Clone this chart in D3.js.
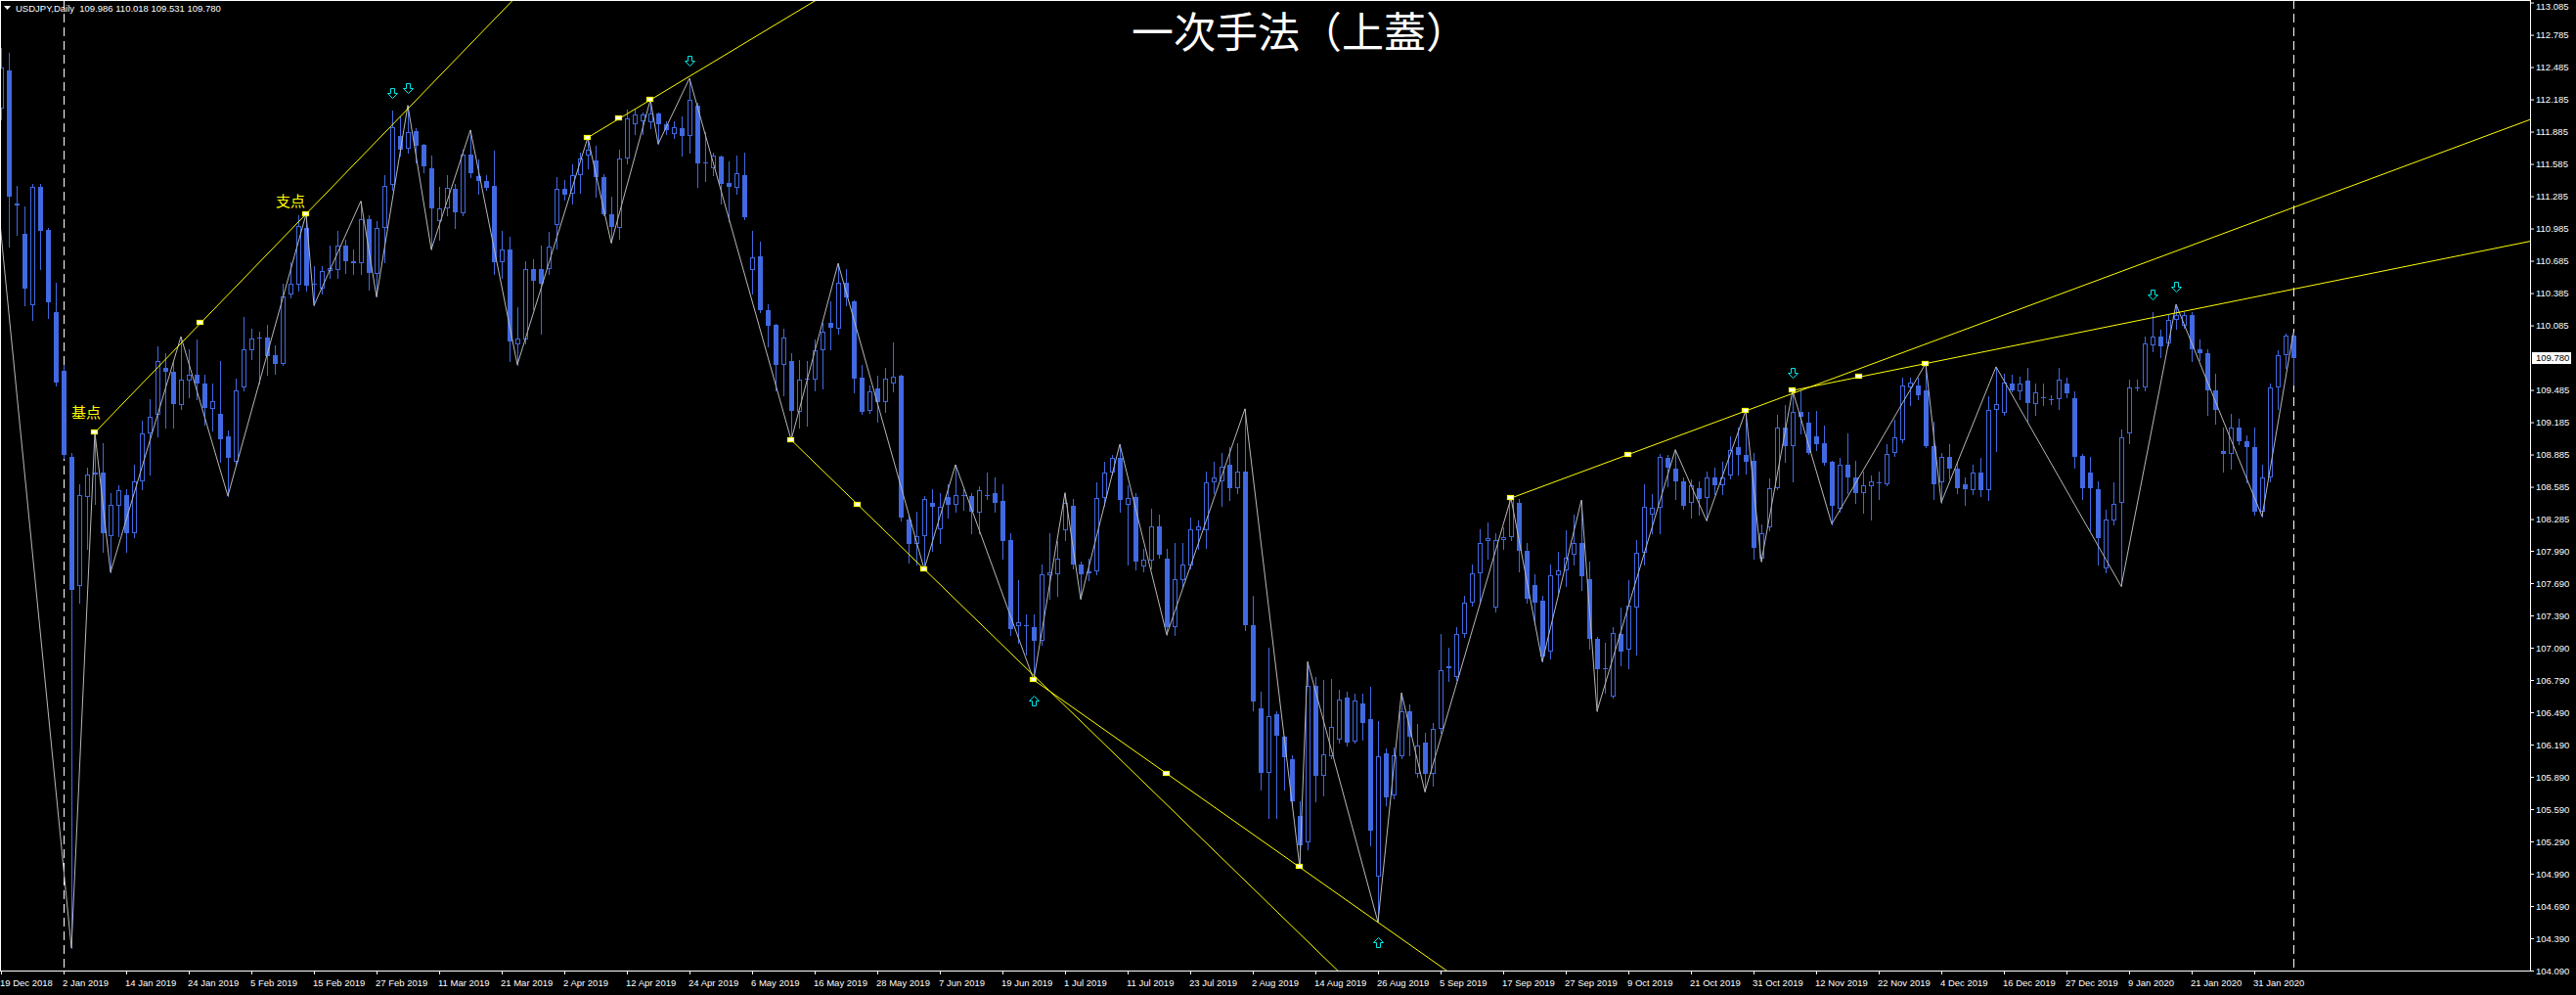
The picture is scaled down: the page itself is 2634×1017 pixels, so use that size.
<!DOCTYPE html>
<html><head><meta charset="utf-8">
<script src="https://cdn.jsdelivr.net/npm/d3@7"></script>
<style>html,body{margin:0;padding:0;background:#000;overflow:hidden}</style>
</head><body>
<svg id="c" width="2634" height="1017" xmlns="http://www.w3.org/2000/svg"></svg>
<script>
// ---------------- DATA ----------------
const symbolTitle = "USDJPY,Daily";
const chartTitle = "一次手法（上蓋）";
const opens = [
112.10,112.45,111.22,110.94,110.27,111.37,110.97,110.21,109.66,108.86,
107.66,108.49,108.70,108.72,108.13,108.41,108.51,108.15,108.64,109.08,
109.25,109.69,109.65,109.34,109.57,109.63,109.54,109.31,109.26,109.05,
108.82,109.51,109.85,109.96,109.97,109.81,109.73,110.37,110.46,110.99,
110.46,110.43,110.59,110.60,110.83,110.68,110.66,111.07,110.56,110.99,
111.39,111.84,111.73,111.89,111.76,111.54,111.05,111.17,111.35,111.13,
111.67,111.47,111.43,111.38,110.67,110.79,109.91,109.95,110.61,110.61,
110.61,111.02,111.35,111.31,111.48,111.66,111.62,111.46,111.12,110.99,
111.64,111.95,111.98,111.97,112.05,111.95,111.86,111.92,111.84,112.13,
111.60,111.54,111.65,111.41,111.36,111.48,110.60,110.73,110.23,110.09,
109.72,109.75,109.28,109.58,109.58,109.85,110.11,110.05,110.48,110.31,
109.60,109.29,109.50,109.37,109.54,109.62,108.28,108.05,108.13,108.44,
108.19,108.49,108.42,108.50,108.50,108.34,108.50,108.53,108.45,108.09,
107.29,107.30,107.28,107.15,107.76,107.77,108.18,108.41,107.86,107.78,
107.80,108.48,108.72,108.85,108.42,108.49,107.84,107.90,108.22,107.92,
107.28,107.72,107.85,108.18,108.18,108.63,108.64,108.79,108.57,108.73,
107.30,106.53,105.93,106.47,106.26,106.05,105.53,105.28,106.74,105.90,
106.08,106.24,106.63,106.22,106.57,106.43,104.96,106.11,105.72,106.08,
106.50,105.92,106.21,105.92,106.34,106.90,106.82,107.22,107.51,107.78,
108.08,107.46,108.09,108.12,108.44,107.99,107.67,107.53,107.05,107.76,
107.81,107.95,108.06,107.73,107.17,106.89,106.64,107.22,107.07,107.46,
107.97,108.33,108.39,108.85,108.75,108.64,108.44,108.57,108.48,108.67,
108.60,108.69,108.95,108.88,108.83,107.92,108.21,108.57,109.14,108.96,
109.28,109.18,109.05,108.99,108.82,108.38,108.79,108.67,108.53,108.59,
108.63,108.61,108.90,109.02,109.51,109.53,109.48,108.96,108.63,108.86,
108.75,108.61,108.55,108.72,108.55,109.30,109.27,109.54,109.47,109.57,
109.35,109.42,109.40,109.40,109.54,109.41,108.87,108.72,108.56,107.83,
108.27,108.44,109.08,109.50,109.51,109.90,109.98,109.92,110.14,110.08,
110.18,109.86,109.83,109.48,108.92,108.89,109.14,109.01,108.95,108.35,
108.67,109.51,109.81,109.986];
const highs = [
112.66,112.62,111.38,111.19,111.40,111.40,110.99,110.48,109.72,108.90,
108.61,108.76,109.09,108.99,108.53,108.60,108.56,108.79,109.20,109.40,
109.89,109.83,109.75,109.98,109.86,109.95,109.63,109.54,109.75,109.11,
109.59,110.16,110.05,110.03,110.09,109.90,110.47,110.67,111.11,111.12,
110.64,110.64,110.83,110.96,110.88,110.79,111.24,111.11,111.05,111.48,
112.08,112.03,112.13,111.92,111.77,111.66,111.37,111.48,111.40,111.72,
111.90,111.63,111.48,111.71,110.96,110.91,110.25,110.68,110.70,110.83,
110.95,111.46,111.44,111.58,111.69,111.83,111.75,111.49,111.28,111.72,
112.09,112.09,112.06,112.18,112.06,111.98,111.98,112.03,112.38,112.15,
111.88,111.69,111.66,111.61,111.66,111.69,110.96,110.86,110.28,110.10,
110.05,109.83,109.76,109.75,109.95,110.11,110.31,110.66,110.61,110.32,
109.72,109.53,109.62,109.69,109.93,109.63,108.33,108.35,108.50,108.56,
108.53,108.61,108.79,108.56,108.53,108.59,108.72,108.67,108.61,108.15,
107.72,107.40,107.40,107.86,108.15,108.08,108.53,108.47,107.89,107.92,
108.63,108.82,108.88,108.98,108.60,108.53,108.01,108.38,108.33,108.01,
108.06,108.06,108.30,108.27,108.73,108.82,108.90,108.95,108.99,109.31,
107.57,106.68,107.09,106.50,106.27,106.09,105.66,106.96,106.82,106.79,
106.80,106.70,106.68,106.66,106.66,106.73,106.41,106.15,106.16,106.67,
106.56,106.38,106.30,106.39,107.22,107.09,107.28,107.57,107.86,108.19,
108.25,108.15,108.21,108.48,108.47,108.06,107.77,107.57,107.86,107.98,
108.18,108.33,108.46,107.89,107.19,107.14,107.28,107.46,107.72,108.09,
108.61,108.52,108.89,108.88,108.93,108.67,108.65,108.64,108.73,108.76,
108.82,109.05,109.14,109.29,108.90,108.24,108.66,109.25,109.34,109.48,
109.48,109.28,109.29,109.15,108.83,108.85,109.08,108.83,108.73,108.69,
108.73,108.98,109.21,109.60,109.60,109.60,109.73,109.19,108.90,108.98,
108.82,108.67,108.79,108.85,109.43,109.70,109.64,109.63,109.61,109.69,
109.54,109.54,109.44,109.69,109.60,109.47,108.89,108.86,108.64,108.37,
108.63,109.12,109.58,109.58,109.98,110.21,110.04,110.18,110.28,110.21,
110.21,109.95,109.86,109.64,109.14,109.26,109.22,109.06,109.14,108.79,
109.54,109.85,110.01,110.018];
const lows = [
112.00,110.82,110.93,110.27,110.14,110.61,110.15,109.53,108.85,104.30,
107.51,108.01,108.43,107.98,107.79,108.13,107.98,108.12,108.56,108.70,
109.05,109.14,109.14,109.31,109.42,109.40,109.16,109.11,108.82,108.50,
108.79,109.48,109.77,109.54,109.63,109.64,109.72,110.34,110.41,110.41,
110.27,110.38,110.53,110.53,110.57,110.56,110.56,110.42,110.35,110.67,
111.34,111.66,111.69,111.60,111.51,110.79,110.88,111.11,110.99,111.11,
111.46,111.31,111.34,110.56,110.53,109.75,109.72,109.92,110.24,110.01,
110.56,110.80,111.25,111.22,111.32,111.54,111.28,111.11,110.85,110.89,
111.59,111.86,111.86,111.92,111.77,111.86,111.83,111.66,111.69,111.37,
111.43,111.48,111.22,111.05,111.31,111.07,110.38,110.21,109.89,109.48,
109.44,109.02,109.14,109.15,109.48,109.50,109.86,110.01,110.27,109.46,
109.26,109.27,109.19,109.28,109.47,108.27,107.88,107.86,107.82,107.99,
108.06,108.30,108.35,108.37,108.15,108.15,108.47,108.35,107.92,107.21,
107.14,107.03,106.79,107.12,107.54,107.57,108.09,107.83,107.54,107.72,
107.77,108.41,108.70,108.35,107.86,107.82,107.80,107.83,107.93,107.21,
107.21,107.66,107.83,108.01,108.02,108.53,108.41,108.46,108.53,107.25,
106.51,105.77,105.51,105.51,105.77,105.63,105.05,105.22,105.66,105.72,
106.06,106.21,106.18,106.21,106.24,105.25,104.54,105.63,105.69,106.06,
106.09,105.89,105.75,105.81,106.30,106.78,106.79,107.19,107.48,107.51,
107.92,107.43,108.01,108.09,107.80,107.51,107.31,106.96,106.99,107.60,
107.66,107.86,107.63,107.08,106.50,106.67,106.63,106.93,106.90,107.03,
107.86,108.15,108.15,108.59,108.47,108.38,108.30,108.33,108.27,108.52,
108.52,108.66,108.70,108.71,107.92,107.89,108.18,108.56,108.82,108.64,
109.08,108.89,108.93,108.79,108.24,108.35,108.53,108.44,108.34,108.28,
108.47,108.60,108.87,109.00,109.34,109.40,108.95,108.47,108.44,108.66,
108.53,108.42,108.52,108.50,108.46,108.92,109.25,109.47,109.40,109.19,
109.25,109.34,109.35,109.31,109.42,108.76,108.47,108.18,107.86,107.79,
108.24,107.66,108.99,109.48,109.48,109.84,109.79,109.90,110.05,110.06,
109.75,109.76,109.25,109.17,108.73,108.75,108.98,108.63,108.33,108.31,
108.64,109.31,109.69,109.531];
const closes = [
112.48,111.28,111.20,110.43,111.37,110.96,110.30,109.55,108.88,107.63,
108.51,108.70,108.72,108.15,108.42,108.55,108.15,108.64,109.08,109.24,
109.75,109.65,109.35,109.58,109.63,109.54,109.32,109.38,109.03,108.85,
109.48,109.86,109.96,109.97,109.80,109.73,110.35,110.47,111.01,110.45,
110.47,110.59,110.62,110.83,110.68,110.66,111.07,110.57,110.99,111.38,
111.93,111.72,111.88,111.75,111.56,111.17,111.17,111.36,111.14,111.67,
111.50,111.43,111.36,110.67,110.79,109.94,109.96,110.61,110.50,110.47,
110.82,111.35,111.30,111.48,111.64,111.72,111.46,111.12,111.00,111.64,
112.01,112.04,112.04,112.05,111.95,111.90,111.93,111.84,112.18,111.59,
111.59,111.66,111.40,111.37,111.50,111.09,110.72,110.23,110.08,109.72,
109.97,109.29,109.58,109.59,109.85,110.03,110.06,110.48,110.34,109.59,
109.28,109.47,109.37,109.59,109.61,108.30,108.05,108.13,108.47,108.40,
108.40,108.42,108.51,108.51,108.35,108.55,108.51,108.44,108.08,107.26,
107.33,107.29,107.15,107.77,107.79,107.92,108.44,107.86,107.77,107.80,
108.48,108.72,108.85,108.46,108.48,107.89,107.91,108.22,107.95,107.28,
107.73,107.86,108.19,108.22,108.63,108.67,108.77,108.57,108.73,107.30,
106.59,105.93,106.45,106.27,106.07,105.66,105.25,106.74,105.90,106.10,
106.35,106.61,106.21,106.60,106.39,105.39,106.08,105.70,106.09,106.50,
106.26,106.18,105.92,106.34,106.88,106.92,107.22,107.51,107.78,108.06,
108.11,108.09,108.12,108.47,107.99,107.54,107.51,107.01,107.76,107.81,
107.93,108.06,107.75,107.17,106.89,106.90,107.23,107.05,107.48,107.97,
108.40,108.39,108.86,108.76,108.64,108.41,108.60,108.47,108.67,108.60,
108.67,108.93,108.88,108.82,108.02,108.15,108.57,109.14,108.96,109.28,
109.24,108.90,108.98,108.81,108.41,108.79,108.67,108.53,108.60,108.64,
108.63,108.89,109.04,109.53,109.55,109.44,108.96,108.61,108.86,108.75,
108.57,108.56,108.72,108.55,109.30,109.35,109.55,109.48,109.54,109.36,
109.46,109.41,109.39,109.58,109.45,108.86,108.57,108.57,108.11,108.28,
108.43,109.04,109.51,109.51,109.92,109.98,109.89,110.14,110.18,110.18,
109.86,109.83,109.48,109.30,108.89,109.14,109.01,108.95,108.35,108.67,
109.51,109.81,109.99,109.780];

// date labels, one every 8 bars starting at bar 0
const dateLabels = ["19 Dec 2018","2 Jan 2019","14 Jan 2019","24 Jan 2019","5 Feb 2019","15 Feb 2019","27 Feb 2019","11 Mar 2019","21 Mar 2019","2 Apr 2019","12 Apr 2019","24 Apr 2019","6 May 2019","16 May 2019","28 May 2019","7 Jun 2019","19 Jun 2019","1 Jul 2019","11 Jul 2019","23 Jul 2019","2 Aug 2019","14 Aug 2019","26 Aug 2019","5 Sep 2019","17 Sep 2019","27 Sep 2019","9 Oct 2019","21 Oct 2019","31 Oct 2019","12 Nov 2019","22 Nov 2019","4 Dec 2019","16 Dec 2019","27 Dec 2019","9 Jan 2020","21 Jan 2020","31 Jan 2020"];
const priceTickLabels = ["113.085","112.785","112.485","112.185","111.885","111.585","111.285","110.985","110.685","110.385","110.085","109.485","109.185","108.885","108.585","108.285","107.990","107.690","107.390","107.090","106.790","106.490","106.190","105.890","105.590","105.290","104.990","104.690","104.390","104.090"];
const currentPrice = "109.780";

// zigzag pivots: bar index, price (first one lies off-chart to the left)
const zigIdx = [-1,9,12,14,23,29,39,40,46,48,52,55,60,66,75,78,83,84,88,101,107,118,122,132,136,138,143,149,159,166,167,176,179,182,193,197,202,204,214,218,223,225,229,234,246,248,255,271,278,289,293];
const zigPrice = [111.68,104.30,109.09,107.79,109.98,108.50,111.12,110.27,111.24,110.35,112.13,110.79,111.90,109.72,111.83,110.85,112.18,111.77,112.38,109.02,110.66,107.82,108.79,106.79,108.53,107.54,108.98,107.21,109.31,105.05,106.96,104.54,106.67,105.75,108.48,106.96,108.46,106.50,108.93,108.27,109.29,107.89,109.48,108.24,109.73,108.44,109.70,107.66,110.28,108.31,110.018];

// trend lines (rays): start bar/price, end bar/price
const tlStartIdx = [12,75,101,132,193,229];
const tlStartPrice = [109.09,111.83,109.02,106.79,108.48,109.48];
const tlEndIdx = [39,83,118,166,223,246];
const tlEndPrice = [111.12,112.18,107.82,105.05,109.29,109.73];

// arrows
const downArrowIdx = [50,52,88,229,275,278];
const upArrowIdx = [132,176];

// text annotations (at first trend line's points)
const noteText = ["基点","支点"];
const noteIdx = [12,39];
const notePrice = [109.09,111.12];

const vLineIdx = [8,293];

// ---------------- DRAW ----------------
const W = 2634, H = 1017, plotR = 2587, plotB = 992;
const BLUE = "#4169e1", YEL = "#ffff00", CYAN = "#00e8e8", ZZ = "#b8b8b8";
const axisFont = "'Liberation Sans', Arial, sans-serif";
const cjkFont = "'Noto Sans CJK JP','Noto Sans CJK SC',sans-serif";

const svg = d3.select("#c");
svg.append("rect").attr("width", W).attr("height", H).attr("fill", "#000");

const x = d3.scaleLinear().domain([0, 293]).range([1, 2345]);
const y = d3.scaleLinear().domain([104.09, 104.09 + 992 / 110]).range([992, 0]);

svg.append("defs").append("clipPath").attr("id", "clip")
  .append("rect").attr("x", 0).attr("y", 0).attr("width", plotR).attr("height", plotB);

const plot = svg.append("g").attr("clip-path", "url(#clip)");

// vertical dashed lines
plot.selectAll("line.vl").data(vLineIdx).join("line")
  .attr("x1", d => Math.round(x(d)) + 0.5).attr("x2", d => Math.round(x(d)) + 0.5)
  .attr("y1", 0).attr("y2", plotB)
  .attr("stroke", "#fff").attr("stroke-width", 1).attr("stroke-dasharray", "9,5");

// candles
const bars = d3.range(opens.length).map(i => ({ i, o: opens[i], h: highs[i], l: lows[i], c: closes[i] }));
const cg = plot.append("g").selectAll("g").data(bars).join("g");
cg.append("line")
  .attr("x1", d => Math.round(x(d.i)) + 0.5).attr("x2", d => Math.round(x(d.i)) + 0.5)
  .attr("y1", d => Math.round(y(d.h))).attr("y2", d => Math.round(y(d.l)) + 1)
  .attr("stroke", BLUE).attr("stroke-width", 1);
cg.each(function (d) {
  const g = d3.select(this);
  const cx = Math.round(x(d.i));
  const top = Math.round(y(Math.max(d.o, d.c)));
  const bot = Math.round(y(Math.min(d.o, d.c)));
  const h = Math.max(1, bot - top);
  if (d.c < d.o || h < 3) {
    g.append("rect").attr("x", cx - 2).attr("y", top).attr("width", 5).attr("height", h).attr("fill", BLUE);
  } else {
    g.append("rect").attr("x", cx - 1.5).attr("y", top + 0.5).attr("width", 4).attr("height", h - 1)
      .attr("fill", "#000").attr("stroke", BLUE).attr("stroke-width", 1);
  }
});

// zigzag
const zz = zigIdx.map((d, k) => [d, zigPrice[k]]);
plot.append("path").datum(zz)
  .attr("d", d3.line().x(d => x(d[0])).y(d => y(d[1])))
  .attr("fill", "none").attr("stroke", ZZ).attr("stroke-width", 1);

// trend lines
const tls = tlStartIdx.map((s, k) => ({ i1: s, p1: tlStartPrice[k], i2: tlEndIdx[k], p2: tlEndPrice[k] }));
tls.forEach(t => {
  const slope = (t.p2 - t.p1) / (t.i2 - t.i1);
  const far = 400;
  plot.append("line")
    .attr("x1", x(t.i1)).attr("y1", y(t.p1))
    .attr("x2", x(far)).attr("y2", y(t.p1 + slope * (far - t.i1)))
    .attr("stroke", YEL).attr("stroke-width", 1);
});
// handle markers
const handles = [];
tls.forEach(t => {
  handles.push([t.i1, t.p1]);
  handles.push([(t.i1 + t.i2) / 2, (t.p1 + t.p2) / 2]);
  handles.push([t.i2, t.p2]);
});
plot.selectAll("rect.hd").data(handles).join("rect")
  .attr("x", d => Math.round(x(d[0])) - 3.5).attr("y", d => Math.round(y(d[1])) - 2.5)
  .attr("width", 6).attr("height", 4)
  .attr("fill", "#ffffff").attr("stroke", YEL).attr("stroke-width", 1.2);

// arrows
function downArrow(cx, cy) {
  return `M${cx - 2},${cy - 5} h4 v5 h3 l-5,5 l-5,-5 h3 z`;
}
function upArrow(cx, cy) {
  return `M${cx - 2},${cy + 5} h4 v-5 h3 l-5,-5 l-5,5 h3 z`;
}
plot.selectAll("path.da").data(downArrowIdx).join("path")
  .attr("d", d => downArrow(Math.round(x(d)) + 0.5, Math.round(y(highs[d])) - 17.5))
  .attr("fill", "none").attr("stroke", CYAN).attr("stroke-width", 1);
plot.selectAll("path.ua").data(upArrowIdx).join("path")
  .attr("d", d => upArrow(Math.round(x(d)) + 0.5, Math.round(y(lows[d])) + 21.5))
  .attr("fill", "none").attr("stroke", CYAN).attr("stroke-width", 1);

// notes
const noteDx = [-9, -16], noteDy = [-15, -8];
plot.selectAll("text.note").data(noteText).join("text")
  .attr("x", (d, k) => x(noteIdx[k]) + noteDx[k]).attr("y", (d, k) => y(notePrice[k]) + noteDy[k])
  .attr("text-anchor", "middle").attr("fill", YEL)
  .attr("font-family", cjkFont).attr("font-size", 15).text(d => d);

// borders / axes lines
svg.append("line").attr("x1", 0).attr("x2", plotR).attr("y1", 0.5).attr("y2", 0.5).attr("stroke", "#fff").attr("stroke-width", 1);
svg.append("line").attr("x1", 0.5).attr("x2", 0.5).attr("y1", 0).attr("y2", plotB).attr("stroke", "#fff").attr("stroke-width", 1);

// Y axis
const yAxis = d3.axisRight(y)
  .tickValues(priceTickLabels.map(Number))
  .tickFormat((d, k) => priceTickLabels[k])
  .tickSize(4).tickPadding(2);
const ya = svg.append("g").attr("transform", `translate(${plotR},0)`).call(yAxis);
ya.select(".domain").remove();
ya.selectAll("line").attr("stroke", "#fff");
ya.selectAll("text").attr("fill", "#fff").attr("font-family", axisFont).attr("font-size", 9.5);
// keep the topmost label inside the picture
ya.selectAll(".tick").filter(d => y(d) < 6).select("text").attr("y", function (d) { return 6 - y(d); });

// X axis
const xAxis = d3.axisBottom(x)
  .tickValues(dateLabels.map((d, k) => k * 8))
  .tickFormat((d, k) => dateLabels[k])
  .tickSize(4).tickPadding(5.5);
const xa = svg.append("g").attr("transform", `translate(0,${plotB})`).call(xAxis);
xa.select(".domain").remove();
xa.selectAll("line").attr("stroke", "#fff");
xa.selectAll("text").attr("fill", "#fff").attr("font-family", axisFont).attr("font-size", 9.5)
  .attr("text-anchor", "start").attr("dx", -1.5);

svg.append("line").attr("x1", plotR + 0.5).attr("x2", plotR + 0.5).attr("y1", 0).attr("y2", plotB + 1).attr("stroke", "#fff");
svg.append("line").attr("x1", 0).attr("x2", plotR + 1).attr("y1", plotB + 0.5).attr("y2", plotB + 0.5).attr("stroke", "#fff");

// current price box
const cpY = Math.round(y(+currentPrice));
svg.append("rect").attr("x", plotR + 2).attr("y", cpY - 6).attr("width", 40).attr("height", 12).attr("fill", "#fff");
svg.append("text").attr("x", plotR + 6).attr("y", cpY).attr("dy", "0.34em")
  .attr("fill", "#000").attr("font-family", axisFont).attr("font-size", 9.5).text(currentPrice);

// header
svg.append("path").attr("d", "M4,6 h7 l-3.5,4 z").attr("fill", "#fff");
svg.append("text").attr("x", 16).attr("y", 11.5).attr("fill", "#fff")
  .attr("font-family", axisFont).attr("font-size", 9.5)
  .attr("xml:space", "preserve").style("white-space", "pre")
  .text(`${symbolTitle}  ${opens[293].toFixed(3)} ${highs[293].toFixed(3)} ${lows[293].toFixed(3)} ${closes[293].toFixed(3)}`);

// title
svg.append("text").attr("x", 1157).attr("y", 49).attr("fill", "#fff")
  .attr("font-family", cjkFont).attr("font-size", 43).text(chartTitle);
</script>
</body></html>
